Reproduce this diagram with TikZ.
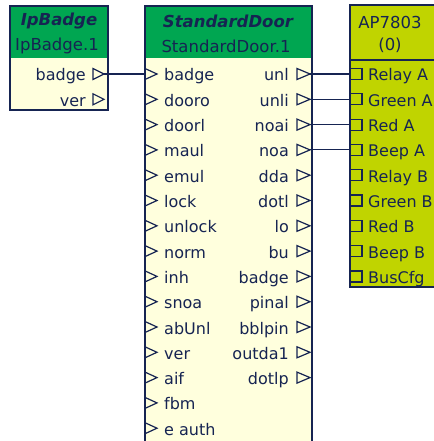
\documentclass[tikz,border=0pt]{standalone}
\usepackage{fontspec}
\setmainfont{DejaVu Sans}
\usepackage{tikz}

\definecolor{hdrgreen}{RGB}{0,166,81}
\definecolor{bodyyellow}{RGB}{255,255,221}
\definecolor{apyellow}{RGB}{192,212,0}
\definecolor{navy}{RGB}{22,36,82}

\tikzset{
  lbl/.style={text=navy, inner sep=0pt, font=\fontsize{16}{19}\selectfont},
  hdr/.style={text=navy, inner sep=0pt, font=\fontsize{16.5}{19}\selectfont},
  hdrbold/.style={text=navy, inner sep=0pt, font=\fontsize{16.5}{19}\selectfont\bfseries\itshape},
  frame/.style={draw=navy, line width=1.3pt},
  pin/.style={draw=navy, line width=1.2pt},
  wire/.style={draw=navy, line width=1.1pt},
}

\begin{document}
\begin{tikzpicture}[x=1pt,y=-1pt]
    \useasboundingbox (0,0) rectangle (433,441);
    % IpBadge block
    \fill[hdrgreen] (10,6) rectangle (108,58);
    \fill[bodyyellow] (10,58) rectangle (108,110);
    \draw[frame] (10,6) rectangle (108,110);
    \node[hdrbold] (ipbtitle) at (59,21) {IpBadge};
    \node[hdr] (ipbname) at (57,46) {IpBadge.1};
    \foreach \nm [count=\i from 0] in {badge,ver} {
        \pgfmathsetmacro\yy{74+25.3*\i}
        \draw[pin] (93,\yy-5.5) -- (104,\yy) -- (93,\yy+5.5) -- cycle;
        \coordinate (ipbout\i) at (104,\yy);
        \node[lbl, anchor=base east] (ipblbl\i) at (86,\yy+7) {\nm};
    }
    % StandardDoor block
    \fill[hdrgreen] (145,6) rectangle (312,58);
    \fill[bodyyellow] (145,58) rectangle (312,450);
    \draw[frame] (145,450) -- (145,6) -- (312,6) -- (312,450);
    \node[hdrbold] (sdtitle) at (228,21) {StandardDoor};
    \node[hdr] (sdname) at (226,46) {StandardDoor.1};
    \foreach \nm [count=\i from 0] in {badge,dooro,doorl,maul,emul,lock,unlock,norm,inh,snoa,abUnl,ver,aif,fbm,e auth} {
        \pgfmathsetmacro\yy{74+25.3*\i}
        \draw[pin] (145,\yy-5.5) -- (157,\yy) -- (145,\yy+5.5) -- cycle;
        \coordinate (sdin\i) at (145,\yy);
        \node[lbl, anchor=base west] (sdinlbl\i) at (164,\yy+7) {\nm};
    }
    \foreach \nm [count=\i from 0] in {unl,unli,noai,noa,dda,dotl,lo,bu,badge,pinal,bblpin,outda1,dotlp} {
        \pgfmathsetmacro\yy{74+25.3*\i}
        \draw[pin] (297,\yy-5.5) -- (310,\yy) -- (297,\yy+5.5) -- cycle;
        \coordinate (sdout\i) at (310,\yy);
        \node[lbl, anchor=base east] (sdoutlbl\i) at (289,\yy+7) {\nm};
    }
    % AP7803 block
    \fill[apyellow] (350,5) rectangle (450,287);
    \draw[frame] (450,5) -- (350,5) -- (350,287) -- (450,287);
    \draw[frame] (350,60) -- (450,60);
    \node[hdr] (aptitle) at (390,22) {AP7803};
    \node[hdr] (apnum) at (390,45) {(0)};
    \foreach \nm [count=\i from 0] in {Relay A,Green A,Red A,Beep A,Relay B,Green B,Red B,Beep B,BusCfg} {
        \pgfmathsetmacro\yy{74+25.3*\i}
        \draw[pin] (350,\yy-5.5) rectangle (362,\yy+5.5);
        \coordinate (apin\i) at (350,\yy);
        \node[lbl, anchor=base west] (aplbl\i) at (368,\yy+7) {\nm};
    }
    % wires
    \draw[wire] (ipbout0) -- (sdin0);
    \draw[wire] (sdout0) -- (apin0);
    \draw[wire] (sdout1) -- (apin1);
    \draw[wire] (sdout2) -- (apin2);
    \draw[wire] (sdout3) -- (apin3);
\end{tikzpicture}
\end{document}
